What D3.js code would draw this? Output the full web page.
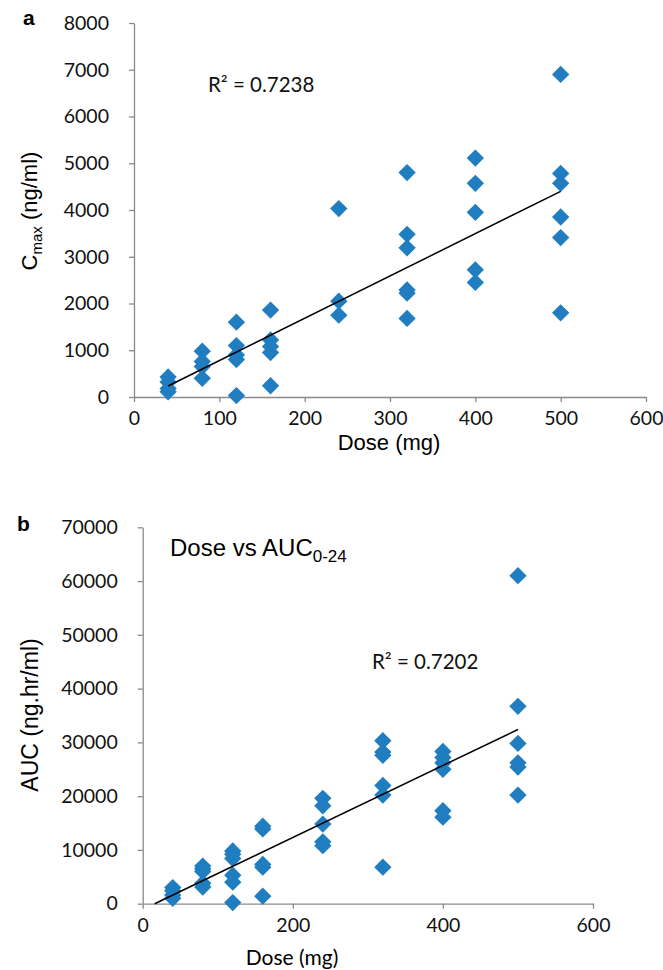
<!DOCTYPE html>
<html><head><meta charset="utf-8">
<script src="https://cdn.jsdelivr.net/npm/d3@7"></script>
<style>body{margin:0;background:#fff}svg{display:block}</style>
</head><body>
<svg id="c" width="663" height="970"></svg>
<script>
// ---- data ----
const xTicks = [0,100,200,300,400,500,600];
const xTicksB = [0,200,400,600];
const yTicksA = [0,1000,2000,3000,4000,5000,6000,7000,8000];
const yTicksB = [0,10000,20000,30000,40000,50000,60000,70000];

const doseA = [40,40,40,40, 80,80,80,80, 120,120,120,120,120, 160,160,160,160,160,
  240,240,240, 320,320,320,320,320,320, 400,400,400,400,400, 500,500,500,500,500,500];
const cmax = [430,320,180,110, 980,760,650,400, 1600,1100,900,800,30, 1860,1220,1080,950,240,
  4030,2050,1750, 4800,3480,3190,2290,2220,1680, 5110,4570,3950,2720,2450, 6900,4780,4570,3850,3410,1800];

const doseB = [40,40,40,40, 80,80,80,80,80, 120,120,120,120,120,120, 160,160,160,160,160,
  240,240,240,240,240, 320,320,320,320,320,320, 400,400,400,400,400,400, 500,500,500,500,500,500];
const auc = [3000,2400,1600,1000, 7000,6500,6000,3800,3100, 9800,9200,8400,5300,4000,200,
  14400,13900,7300,6800,1400, 19600,18200,14800,11500,10800, 30300,28200,27600,22000,20200,6800,
  28300,27200,26200,25000,17300,16100, 61000,36700,29800,26200,25400,20200];

const trendA = [[40,235],[500,4400]];
const trendB = [[16,0],[500,32400]];
const r2A = "R² = 0.7238";
const r2B = "R² = 0.7202";

// ---- drawing ----
const svg = d3.select("#c");
const AX = "#8a8a8a", BLUE = "#1f7dc0";
const sans = "'Liberation Sans', Arial, sans-serif";
const cal = "Lato, 'Open Sans', sans-serif";

function panel(o){
  const x = d3.scaleLinear().domain([0,600]).range([o.x0,o.x1]);
  const y = d3.scaleLinear().domain(o.ydom).range([o.y0,o.y1]);
  const g = svg.append("g");
  const xa = g.append("g").attr("transform",`translate(0,${o.y0})`)
    .call(d3.axisBottom(x).tickValues(o.xt).tickSize(5).tickSizeOuter(0).tickPadding(o.xpad).tickFormat(d3.format("d")));
  const ya = g.append("g").attr("transform",`translate(${o.x0},0)`)
    .call(d3.axisLeft(y).tickValues(o.yt).tickSize(5).tickSizeOuter(0).tickPadding(o.ypad).tickFormat(d3.format("d")));
  [xa,ya].forEach(a=>{
    a.selectAll("path,line").attr("stroke",AX).attr("stroke-width",1.3);
    a.selectAll("text").attr("fill","#111").style("font-family",cal).style("font-size",o.fs+"px");
  });
  // points
  const sym = d3.symbol().type(d3.symbolSquare).size(o.ms);
  g.append("g").selectAll("path").data(o.xs.map((d,i)=>[d,o.ys[i]])).join("path")
    .attr("d",sym).attr("fill",BLUE)
    .attr("transform",d=>`translate(${x(d[0])},${y(d[1])}) rotate(45)`);
  // trend
  g.append("path").attr("d",d3.line().x(d=>x(d[0])).y(d=>y(d[1]))(o.trend))
    .attr("stroke","#000").attr("stroke-width",1.5).attr("fill","none");
  return {x,y,g};
}

const A = panel({x0:134,x1:646,y0:397,y1:23,ydom:[0,8000],xt:xTicks,yt:yTicksA,xs:doseA,ys:cmax,trend:trendA,ms:150,fs:19.5,xpad:9,ypad:20});
const B = panel({x0:142.7,x1:593,y0:903.7,y1:527.3,ydom:[0,70000],xt:xTicksB,yt:yTicksB,xs:doseB,ys:auc,trend:trendB,ms:150,fs:19.5,xpad:9,ypad:20});

// panel letters
svg.append("text").attr("x",23).attr("y",25).text("a").style("font-family",sans).style("font-weight","bold").style("font-size","21px");
svg.append("text").attr("x",17).attr("y",531).text("b").style("font-family",sans).style("font-weight","bold").style("font-size","21px");

// R2 labels
svg.append("text").attr("x",208).attr("y",92).text(r2A).style("font-family",cal).style("font-size","20.5px").attr("fill","#111");
svg.append("text").attr("x",372).attr("y",669).text(r2B).style("font-family",cal).style("font-size","20.5px").attr("fill","#111");

// axis titles panel a
svg.append("text").attr("x",389).attr("y",450).attr("text-anchor","middle").text("Dose (mg)")
  .style("font-family",sans).style("font-size","22px");
const ta = svg.append("text").attr("transform","translate(37,211) rotate(-90)").attr("text-anchor","middle")
  .style("font-family",sans).style("font-size","22px");
ta.append("tspan").text("C");
ta.append("tspan").text("max").attr("dy",5).style("font-size","15px");
ta.append("tspan").text(" (ng/ml)").attr("dy",-5);

// panel b titles
const tt = svg.append("text").attr("x",170).attr("y",556).style("font-family",sans).style("font-size","24px");
tt.append("tspan").text("Dose vs AUC");
tt.append("tspan").text("0-24").attr("dy",6).style("font-size","17px");
svg.append("text").attr("x",292).attr("y",965).attr("text-anchor","middle").text("Dose (mg)")
  .style("font-family",cal).style("font-size","21px");
svg.append("text").attr("transform","translate(38,715) rotate(-90)").attr("text-anchor","middle")
  .text("AUC (ng.hr/ml)").style("font-family",sans).style("font-size","23px");
</script>
</body></html>
